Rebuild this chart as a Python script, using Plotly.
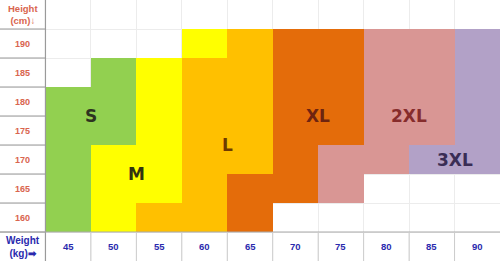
import plotly.graph_objects as go

weights = [45, 50, 55, 60, 65, 70, 75, 80, 85, 90]
heights = [190, 185, 180, 175, 170, 165, 160]
size_names = ["S", "M", "L", "XL", "2XL", "3XL"]
size_colors = ["#92D050", "#FFFF00", "#FFC000", "#E46C0A", "#D99694", "#B2A1C7"]
label_colors = ["#2E3320", "#333310", "#6E3A00", "#6E2410", "#862C2C", "#3A2D55"]
# size in each cell, rows = heights (190 -> 160), columns = weights (45 -> 90)
grid = [
    ["", "", "", "M", "L", "XL", "XL", "2XL", "2XL", "3XL"],
    ["", "S", "M", "L", "L", "XL", "XL", "2XL", "2XL", "3XL"],
    ["S", "S", "M", "L", "L", "XL", "XL", "2XL", "2XL", "3XL"],
    ["S", "S", "M", "L", "L", "XL", "XL", "2XL", "2XL", "3XL"],
    ["S", "M", "M", "L", "L", "XL", "2XL", "2XL", "3XL", "3XL"],
    ["S", "M", "M", "L", "XL", "XL", "2XL", "", "", ""],
    ["S", "M", "L", "L", "XL", "", "", "", "", ""],
]
# label anchor (weight, height) for each size name
label_weight = [47.5, 52.5, 62.5, 72.5, 82.5, 87.5]
label_height = [177.5, 167.5, 172.5, 177.5, 177.5, 170]

step = 5
x_head = weights[0] - step
y_head_top = heights[0] + step
y_head_bot = heights[-1] - step

z = [[(size_names.index(s) + 1) if s else None for s in row] for row in grid]
n = len(size_names)
cs = []
for i, c in enumerate(size_colors):
    cs.append([i / n, c])
    cs.append([(i + 1) / n, c])

fig = go.Figure()
fig.add_trace(go.Heatmap(
    x=weights, y=heights, z=z, colorscale=cs, zmin=0.5, zmax=n + 0.5,
    showscale=False, hoverinfo="skip",
))

FONT = "Liberation Sans"
SALMON = "#D9654E"
BLUE = "#2A2AAE"
anns = []
for i, s in enumerate(size_names):
    anns.append(dict(x=label_weight[i], y=label_height[i], text="<b>%s</b>" % s,
                     showarrow=False, font=dict(family="DejaVu Sans", size=17, color=label_colors[i])))
for h in heights:
    anns.append(dict(x=x_head, y=h, text="<b>%d</b>" % h, showarrow=False,
                     font=dict(family=FONT, size=9, color=SALMON)))
for w in weights:
    anns.append(dict(x=w, y=y_head_bot, text="<b>%d</b>" % w, showarrow=False,
                     font=dict(family=FONT, size=9.5, color=BLUE)))
anns.append(dict(x=x_head, y=y_head_top, text="<b>Height<br>(cm)↓</b>", showarrow=False,
                 font=dict(family=FONT, size=9.5, color=SALMON)))
anns.append(dict(x=x_head, y=y_head_bot, text="<b>Weight<br>(kg)➡</b>", showarrow=False,
                 font=dict(family=FONT, size=10, color=BLUE)))

shapes = []
dark = "#9A9A9A"
# header column separator
shapes.append(dict(type="line", x0=x_head + step / 2, x1=x_head + step / 2,
                   y0=y_head_bot - step / 2, y1=y_head_top + step / 2,
                   line=dict(color=dark, width=1.2)))
for h in heights + [y_head_top]:
    shapes.append(dict(type="line", x0=x_head - step / 2, x1=x_head + step / 2,
                       y0=h - step / 2, y1=h - step / 2, line=dict(color=dark, width=1.2)))
# weight row top line
shapes.append(dict(type="line", x0=x_head - step / 2, x1=weights[-1] + step / 2,
                   y0=heights[-1] - step / 2, y1=heights[-1] - step / 2,
                   line=dict(color="#AAAAAA", width=1.2)))
for w in weights[1:]:
    shapes.append(dict(type="line", x0=w - step / 2, x1=w - step / 2,
                       y0=y_head_bot - step / 2, y1=y_head_bot + step / 2,
                       line=dict(color="#CCCCCC", width=1)))

grid_x = [w - step / 2 for w in weights] + [weights[-1] + step / 2]
grid_y = [h - step / 2 for h in heights] + [heights[0] + step / 2]

fig.update_layout(
    width=500, height=261, margin=dict(l=0, r=0, t=0, b=0),
    paper_bgcolor="white", plot_bgcolor="white",
    annotations=anns, shapes=shapes,
    xaxis=dict(range=[x_head - step / 2, weights[-1] + step / 2], tickvals=grid_x,
               showticklabels=False, ticks="", showgrid=True, gridcolor="#ECECEC",
               gridwidth=1, zeroline=False, showline=False, fixedrange=True),
    yaxis=dict(range=[y_head_bot - step / 2, y_head_top + step / 2], tickvals=grid_y,
               showticklabels=False, ticks="", showgrid=True, gridcolor="#ECECEC",
               gridwidth=1, zeroline=False, showline=False, fixedrange=True),
    showlegend=False,
)
fig.write_html("out.html")
